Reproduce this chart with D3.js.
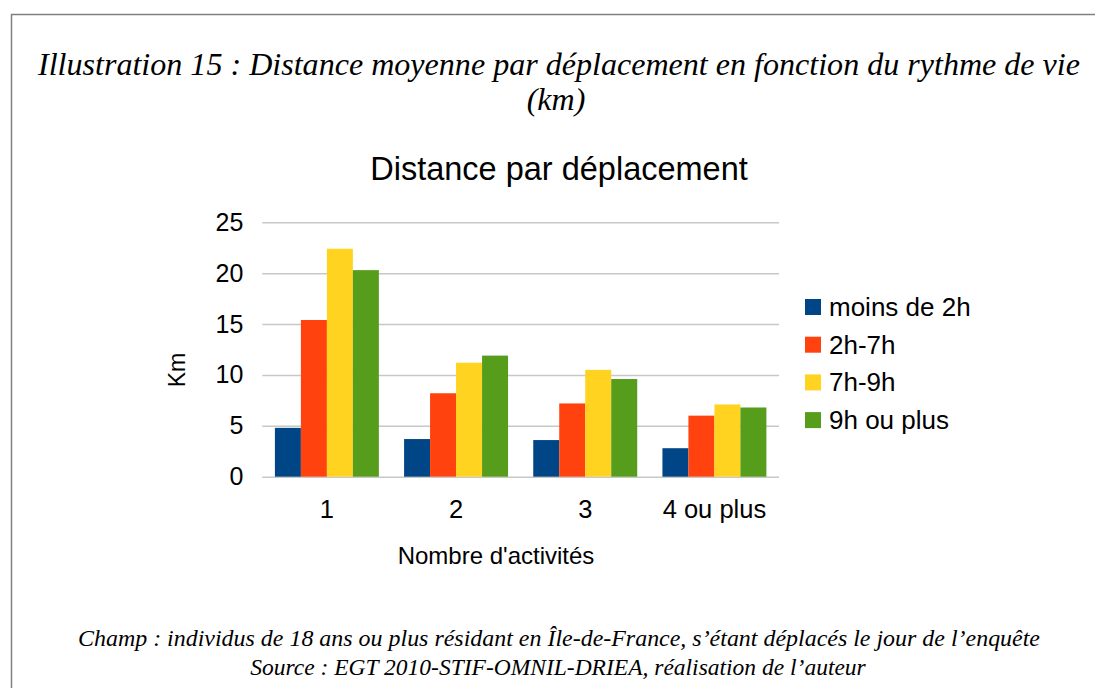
<!DOCTYPE html>
<html><head><meta charset="utf-8">
<script src="https://cdn.jsdelivr.net/npm/d3@7"></script>
<style>html,body{margin:0;padding:0;background:#fff;}svg{display:block;}</style>
</head><body>
<script>
const categories = ["1", "2", "3", "4 ou plus"];
const seriesNames = ["moins de 2h", "2h-7h", "7h-9h", "9h ou plus"];
const moins2h = [4.8, 3.7, 3.6, 2.8];
const h2_7 = [15.4, 8.2, 7.2, 6.0];
const h7_9 = [22.4, 11.2, 10.5, 7.1];
const h9plus = [20.3, 11.9, 9.6, 6.8];
const yTicks = [0, 5, 10, 15, 20, 25];
const colors = ["#004586", "#ff420e", "#ffd320", "#579d1c"];

const series = [moins2h, h2_7, h7_9, h9plus];
const W = 1095, H = 688;
const svg = d3.select("body").append("svg").attr("width", W).attr("height", H);

svg.append("path").attr("d", "M11.5,700 V14.5 H1100").attr("fill", "none").attr("stroke", "#808080").attr("stroke-width", 1.5);

const serif = "'Liberation Serif', 'Times New Roman', serif";
const sans = "'Liberation Sans', Arial, sans-serif";

svg.append("text").attr("x", 559).attr("y", 75).attr("text-anchor", "middle")
  .attr("font-family", serif).attr("font-style", "italic").attr("font-size", 32)
  .attr("textLength", 1042).attr("lengthAdjust", "spacingAndGlyphs")
  .text("Illustration 15 : Distance moyenne par déplacement en fonction du rythme de vie");
svg.append("text").attr("x", 556).attr("y", 110).attr("text-anchor", "middle")
  .attr("font-family", serif).attr("font-style", "italic").attr("font-size", 32)
  .text("(km)");

svg.append("text").attr("x", 559).attr("y", 180).attr("text-anchor", "middle")
  .attr("font-family", sans).attr("font-size", 32.5).text("Distance par déplacement");

const x0 = 262.3, x1 = 779, yBase = 476.7, yTop = 222.3;
const x = d3.scaleBand().domain(categories).range([x0, x1]).paddingInner(0).paddingOuter(0);
const y = d3.scaleLinear().domain([0, 25]).range([yBase, yTop]);
const xs = d3.scaleBand().domain(d3.range(4)).range([0, x.bandwidth()]).paddingOuter(0.485).paddingInner(0);

const yAxis = d3.axisLeft(y).tickValues(yTicks).tickSize(-(x1 - x0)).tickPadding(19);
const gy = svg.append("g").attr("transform", `translate(${x0},0)`).call(yAxis);
gy.select(".domain").remove();
gy.selectAll(".tick line").attr("stroke", "#c8c8c8").attr("stroke-width", 1.5);
gy.selectAll(".tick text").attr("font-family", sans).attr("font-size", 25).attr("fill", "#000");

const g = svg.append("g");
categories.forEach((c, i) => {
  series.forEach((s, j) => {
    g.append("rect")
      .attr("x", x(c) + xs(j))
      .attr("width", xs.bandwidth())
      .attr("y", y(s[i]))
      .attr("height", y(0) - y(s[i]))
      .attr("fill", colors[j]);
  });
});

const xAxis = d3.axisBottom(x).tickSize(0).tickPadding(23);
const gx = svg.append("g").attr("transform", `translate(0,${yBase})`).call(xAxis);
gx.select(".domain").remove();
gx.selectAll(".tick text").attr("font-family", sans).attr("font-size", 25.5).attr("fill", "#000");

svg.append("text").attr("x", 496).attr("y", 564).attr("text-anchor", "middle")
  .attr("font-family", sans).attr("font-size", 24).text("Nombre d'activités");
svg.append("text").attr("transform", "translate(185,370) rotate(-90)").attr("text-anchor", "middle")
  .attr("font-family", sans).attr("font-size", 23).text("Km");

const lg = svg.append("g");
seriesNames.forEach((n, j) => {
  const cy = 307 + j * 37.7;
  lg.append("rect").attr("x", 805).attr("y", cy - 8).attr("width", 16).attr("height", 16).attr("fill", colors[j]);
  lg.append("text").attr("x", 829).attr("y", cy + 9).attr("font-family", sans).attr("font-size", 26).text(n);
});

svg.append("text").attr("x", 559).attr("y", 646).attr("text-anchor", "middle")
  .attr("font-family", serif).attr("font-style", "italic").attr("font-size", 23.5)
  .attr("textLength", 962).attr("lengthAdjust", "spacingAndGlyphs")
  .text("Champ : individus de 18 ans ou plus résidant en Île-de-France, s’étant déplacés le jour de l’enquête");
svg.append("text").attr("x", 558).attr("y", 675).attr("text-anchor", "middle")
  .attr("font-family", serif).attr("font-style", "italic").attr("font-size", 23.5)
  .text("Source : EGT 2010-STIF-OMNIL-DRIEA, réalisation de l’auteur");
</script>
</body></html>
